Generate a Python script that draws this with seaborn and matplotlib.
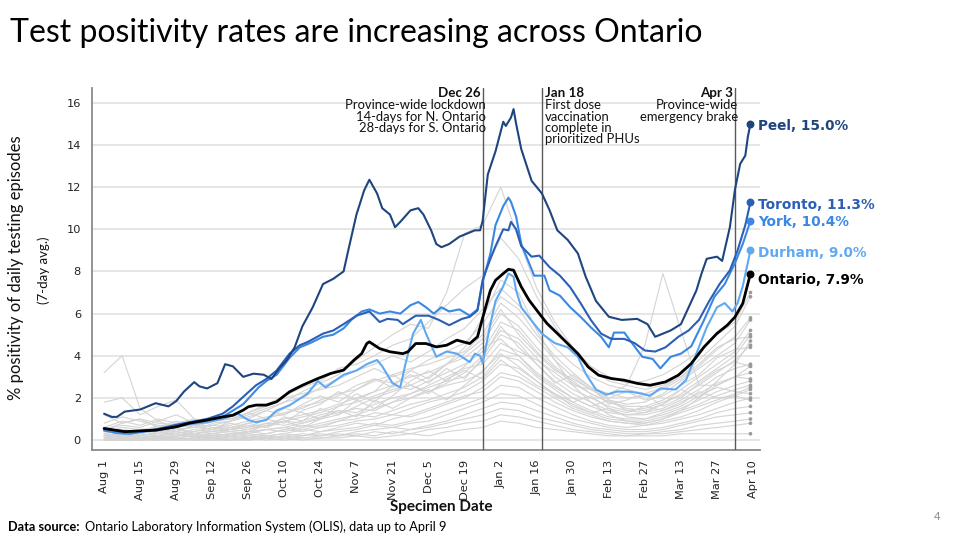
import numpy as np
import pandas as pd
import matplotlib
matplotlib.use("Agg")
import matplotlib.pyplot as plt
import seaborn as sns

# ---------------- data (days counted from 2020-08-01) ----------------
START = pd.Timestamp("2020-08-01")

peel_days = [0, 3, 5, 8, 14, 20, 25, 28, 31, 35, 37, 40, 44, 47, 50, 54, 58, 62, 65, 68, 71, 74, 77, 81, 85, 89, 93, 95, 98, 101, 103, 106, 108, 111, 113, 115, 119, 122, 124, 127, 129, 131, 134, 138, 141, 144, 146, 147, 149, 152, 155, 156, 158, 159, 160, 162, 166, 170, 173, 176, 180, 184, 187, 191, 196, 201, 207, 211, 214, 220, 224, 227, 230, 232, 234, 238, 240, 243, 245, 247, 249, 250, 251]
peel_vals = [1.25, 1.1, 1.1, 1.35, 1.45, 1.75, 1.6, 1.85, 2.3, 2.75, 2.55, 2.45, 2.7, 3.6, 3.5, 3.0, 3.15, 3.1, 2.9, 3.4, 3.8, 4.4, 5.4, 6.3, 7.4, 7.65, 8.0, 9.1, 10.7, 11.85, 12.35, 11.7, 11.0, 10.7, 10.1, 10.35, 10.9, 11.0, 10.7, 9.95, 9.3, 9.15, 9.3, 9.65, 9.8, 9.95, 9.95, 10.4, 12.6, 13.7, 15.1, 14.9, 15.3, 15.7, 15.0, 13.8, 12.3, 11.7, 10.9, 9.95, 9.5, 8.85, 7.75, 6.6, 5.85, 5.7, 5.75, 5.5, 4.9, 5.2, 5.5, 6.3, 7.1, 7.9, 8.6, 8.7, 8.5, 10.1, 11.9, 13.1, 13.5, 14.4, 15.0]

toronto_days = [0, 5, 10, 15, 20, 27, 33, 40, 46, 50, 54, 59, 63, 67, 72, 76, 79, 85, 89, 93, 98, 103, 107, 110, 114, 116, 121, 126, 130, 134, 139, 142, 145, 147, 150, 152, 155, 157, 158, 160, 162, 166, 169, 173, 177, 181, 185, 189, 193, 197, 202, 206, 210, 214, 218, 223, 227, 231, 235, 239, 243, 246, 249, 251]
toronto_vals = [0.55, 0.45, 0.4, 0.45, 0.5, 0.7, 0.85, 1.0, 1.25, 1.6, 2.05, 2.6, 2.9, 3.3, 4.1, 4.5, 4.65, 5.05, 5.2, 5.5, 5.9, 6.1, 5.6, 5.75, 5.7, 5.5, 5.9, 5.9, 5.7, 5.45, 5.75, 5.85, 6.15, 7.6, 8.6, 9.2, 10.0, 9.95, 10.35, 10.0, 9.2, 8.7, 8.75, 8.2, 7.8, 7.25, 6.5, 5.7, 5.05, 4.8, 4.8, 4.6, 4.25, 4.2, 4.4, 4.9, 5.2, 5.7, 6.6, 7.4, 8.05, 9.0, 10.2, 11.3]

york_days = [0, 5, 10, 15, 20, 27, 33, 40, 46, 50, 54, 57, 60, 63, 67, 72, 76, 80, 85, 89, 93, 96, 100, 103, 107, 111, 115, 119, 122, 125, 128, 131, 134, 138, 142, 145, 147, 150, 152, 155, 157, 158, 160, 162, 165, 167, 171, 173, 177, 181, 185, 189, 193, 196, 198, 202, 205, 209, 213, 216, 220, 224, 228, 233, 237, 241, 245, 248, 251]
york_vals = [0.45, 0.35, 0.3, 0.4, 0.5, 0.65, 0.8, 0.95, 1.1, 1.4, 1.7, 2.1, 2.5, 2.8, 3.1, 3.9, 4.4, 4.6, 4.9, 5.0, 5.3, 5.7, 6.1, 6.2, 6.0, 6.1, 6.0, 6.4, 6.55, 6.3, 6.0, 6.3, 6.1, 6.2, 5.9, 6.2, 7.5, 8.85, 10.2, 11.1, 11.5, 11.3, 10.6, 9.3, 8.4, 7.8, 7.8, 7.1, 6.85, 6.3, 5.85, 5.35, 4.9, 4.4, 5.1, 5.1, 4.6, 3.95, 3.85, 3.4, 3.95, 4.1, 4.45, 5.7, 6.8, 7.4, 8.4, 9.3, 10.4]

durham_days = [0, 4, 8, 14, 20, 27, 33, 40, 46, 52, 56, 59, 63, 67, 72, 79, 83, 86, 93, 98, 102, 106, 108, 112, 115, 117, 120, 123, 125, 129, 133, 137, 142, 144, 146, 147, 150, 152, 155, 157, 159, 160, 162, 167, 170, 175, 180, 184, 187, 191, 195, 199, 204, 209, 212, 216, 222, 226, 230, 234, 238, 241, 244, 246, 248, 251]
durham_vals = [0.5, 0.35, 0.3, 0.4, 0.45, 0.6, 0.75, 0.85, 1.0, 1.25, 0.95, 0.85, 0.95, 1.4, 1.65, 2.2, 2.8, 2.5, 3.1, 3.3, 3.6, 3.8, 3.5, 2.7, 2.5, 3.6, 5.05, 5.7, 5.05, 3.95, 4.2, 4.1, 3.7, 4.1, 4.0, 3.65, 5.5, 6.6, 7.3, 7.9, 7.75, 7.1, 6.3, 5.5, 5.05, 4.6, 4.4, 3.95, 3.15, 2.4, 2.15, 2.3, 2.3, 2.2, 2.1, 2.45, 2.4, 2.85, 4.1, 5.35, 6.3, 6.5, 6.1, 6.5, 7.3, 9.0]

ontario_days = [0, 8, 20, 28, 33, 40, 46, 50, 54, 56, 59, 63, 67, 72, 77, 83, 88, 93, 97, 100, 102, 103, 107, 111, 116, 118, 121, 125, 129, 133, 137, 142, 145, 147, 150, 152, 155, 157, 159, 162, 165, 169, 172, 176, 180, 184, 188, 192, 197, 202, 207, 212, 218, 223, 228, 233, 238, 242, 245, 248, 251]
ontario_vals = [0.55, 0.4, 0.47, 0.63, 0.8, 0.95, 1.1, 1.18, 1.42, 1.58, 1.66, 1.66, 1.82, 2.29, 2.6, 2.92, 3.16, 3.32, 3.79, 4.1, 4.58, 4.66, 4.34, 4.19, 4.1, 4.19, 4.58, 4.58, 4.42, 4.5, 4.74, 4.58, 4.9, 5.8, 7.1, 7.58, 7.9, 8.1, 8.06, 7.27, 6.64, 6.0, 5.53, 5.06, 4.58, 4.1, 3.47, 3.08, 2.92, 2.84, 2.69, 2.6, 2.76, 3.08, 3.63, 4.42, 5.06, 5.45, 5.84, 6.48, 7.9]

# other public health units, weekly readings (Aug 1 ... Apr 3, Apr 9)
gray_days = [0, 7, 14, 21, 28, 35, 42, 49, 56, 63, 70, 77, 84, 91, 98, 105, 112, 119, 126, 133, 140, 147, 154, 161, 168, 175, 182, 189, 196, 203, 210, 217, 224, 231, 238, 245, 251]
g01 = [0.4, 0.6, 0.5, 0.4, 0.5, 0.6, 0.7, 0.9, 1.1, 1.4, 1.8, 2.3, 2.7, 3.1, 3.8, 4.4, 5.0, 5.5, 5.3, 7.0, 9.8, 10.2, 12.0, 9.5, 7.2, 5.6, 4.4, 3.5, 3.0, 2.7, 2.8, 3.1, 3.6, 4.2, 5.0, 5.6, 7.0]
g02 = [3.2, 4.0, 1.5, 0.9, 0.6, 0.3, 0.2, 0.3, 0.4, 0.5, 0.6, 0.8, 1.0, 1.2, 1.6, 2.0, 2.3, 2.6, 3.0, 3.6, 4.4, 5.8, 7.6, 7.0, 5.2, 3.8, 2.6, 1.8, 1.2, 0.9, 0.8, 1.0, 1.4, 2.0, 2.8, 3.6, 4.7]
g03 = [1.8, 2.0, 1.2, 1.6, 1.9, 1.0, 0.8, 0.9, 1.2, 1.5, 1.8, 2.0, 2.5, 2.9, 3.3, 3.6, 4.0, 3.7, 4.2, 4.8, 5.3, 6.2, 7.2, 6.4, 5.4, 4.4, 3.6, 3.0, 2.6, 2.4, 2.2, 2.5, 3.0, 3.8, 4.6, 5.4, 6.8]
g04 = [0.8, 1.1, 0.9, 0.7, 0.6, 0.7, 0.9, 1.0, 1.3, 1.6, 2.0, 2.2, 2.4, 2.6, 3.0, 3.4, 3.0, 3.3, 3.8, 4.2, 4.6, 5.5, 6.8, 6.2, 5.0, 4.0, 3.2, 2.5, 2.2, 2.0, 2.1, 2.4, 2.9, 3.5, 4.3, 4.9, 5.8]
g05 = [0.6, 0.4, 0.5, 0.6, 0.8, 1.0, 0.7, 0.6, 0.8, 1.0, 1.3, 1.5, 1.9, 2.2, 2.4, 2.8, 3.1, 3.4, 3.6, 3.9, 4.2, 5.0, 6.5, 5.8, 4.8, 3.8, 3.0, 2.4, 1.9, 1.7, 1.8, 2.2, 2.8, 3.4, 4.0, 4.6, 5.7]
g06 = [0.3, 0.2, 0.4, 0.3, 0.5, 0.6, 0.5, 0.7, 0.9, 1.1, 1.2, 1.6, 1.8, 2.1, 2.6, 2.9, 2.7, 3.0, 3.2, 3.6, 3.9, 4.6, 6.0, 5.4, 4.4, 3.5, 2.8, 2.2, 1.8, 1.6, 1.6, 1.9, 2.4, 3.0, 3.6, 4.2, 5.2]
g07 = [0.5, 0.7, 0.6, 0.9, 1.2, 0.8, 0.6, 0.5, 0.6, 0.8, 1.0, 1.2, 1.4, 1.7, 2.0, 2.3, 2.6, 2.4, 2.8, 3.2, 3.6, 4.2, 5.6, 5.2, 4.2, 3.4, 2.7, 2.2, 1.8, 1.5, 1.4, 1.7, 2.2, 2.8, 3.4, 4.0, 5.0]
g08 = [0.2, 0.3, 0.2, 0.4, 0.3, 0.5, 0.4, 0.5, 0.7, 0.6, 0.9, 1.1, 1.3, 1.6, 1.8, 2.1, 2.4, 2.6, 2.3, 2.7, 3.2, 4.0, 5.2, 4.8, 3.9, 3.0, 2.4, 2.0, 1.6, 1.4, 1.5, 1.8, 2.1, 2.6, 3.2, 3.8, 4.5]
g09 = [0.4, 0.3, 0.5, 0.4, 0.2, 0.3, 0.5, 0.4, 0.5, 0.8, 0.7, 0.9, 1.2, 1.4, 1.3, 1.7, 2.0, 2.2, 2.5, 2.8, 3.0, 3.8, 5.0, 4.6, 3.6, 2.8, 2.2, 1.8, 1.4, 1.2, 1.3, 1.5, 1.9, 2.4, 3.0, 3.4, 3.6]
g10 = [0.1, 0.2, 0.1, 0.1, 0.2, 0.3, 0.2, 0.3, 0.4, 0.3, 0.5, 0.7, 0.6, 0.9, 1.2, 1.5, 1.8, 2.2, 2.6, 3.0, 3.4, 3.6, 4.6, 4.2, 3.8, 3.2, 2.6, 2.4, 2.2, 2.6, 4.5, 7.9, 5.2, 2.6, 2.6, 3.0, 3.5]
g11 = [0.3, 0.2, 0.3, 0.5, 0.4, 0.3, 0.4, 0.6, 0.5, 0.7, 0.9, 0.8, 1.1, 1.3, 1.5, 1.4, 1.8, 2.0, 2.3, 2.6, 2.8, 3.2, 4.3, 4.0, 3.2, 2.6, 2.0, 1.6, 1.3, 1.2, 1.2, 1.4, 1.8, 2.2, 2.7, 3.0, 3.2]
g12 = [0.2, 0.1, 0.2, 0.3, 0.2, 0.4, 0.3, 0.2, 0.4, 0.5, 0.4, 0.6, 0.8, 1.0, 1.2, 1.1, 1.4, 1.7, 1.9, 2.2, 2.5, 3.0, 4.0, 3.8, 3.0, 2.4, 1.8, 1.4, 1.1, 1.0, 1.0, 1.2, 1.5, 1.9, 2.3, 2.6, 2.8]
g13 = [0.1, 0.2, 0.3, 0.2, 0.1, 0.2, 0.3, 0.4, 0.3, 0.5, 0.6, 0.5, 0.7, 0.9, 1.0, 1.3, 1.2, 1.5, 1.8, 2.0, 2.3, 2.8, 3.6, 3.4, 2.8, 2.2, 1.6, 1.3, 1.0, 0.9, 0.9, 1.1, 1.4, 1.7, 2.1, 2.4, 2.6]
g14 = [0.2, 0.3, 0.1, 0.2, 0.3, 0.1, 0.2, 0.3, 0.2, 0.3, 0.5, 0.4, 0.6, 0.7, 0.9, 1.0, 1.2, 1.1, 1.4, 1.7, 2.0, 2.5, 3.2, 3.0, 2.5, 2.0, 1.5, 1.2, 0.9, 0.8, 0.8, 1.0, 1.3, 1.6, 1.9, 2.2, 2.5]
g15 = [0.0, 0.1, 0.2, 0.1, 0.2, 0.2, 0.1, 0.2, 0.3, 0.2, 0.3, 0.5, 0.4, 0.6, 0.8, 0.7, 1.0, 1.2, 1.5, 1.8, 2.1, 2.3, 3.0, 2.8, 2.3, 1.8, 1.4, 1.1, 0.9, 0.8, 0.7, 0.9, 1.1, 1.4, 1.8, 2.1, 2.4]
g16 = [0.1, 0.0, 0.1, 0.2, 0.1, 0.0, 0.1, 0.2, 0.1, 0.2, 0.3, 0.2, 0.4, 0.5, 0.6, 0.8, 0.7, 0.9, 1.1, 1.4, 1.7, 2.0, 2.6, 2.5, 2.0, 1.6, 1.2, 0.9, 0.7, 0.6, 0.7, 0.8, 1.0, 1.2, 1.5, 1.8, 2.0]
g17 = [0.0, 0.1, 0.0, 0.1, 0.0, 0.1, 0.2, 0.1, 0.2, 0.1, 0.2, 0.3, 0.2, 0.4, 0.5, 0.7, 0.6, 0.8, 0.9, 1.2, 1.5, 1.8, 2.2, 2.1, 1.7, 1.3, 1.0, 0.8, 0.6, 0.5, 0.5, 0.6, 0.8, 1.0, 1.3, 1.5, 1.6]
g18 = [0.1, 0.0, 0.1, 0.0, 0.1, 0.2, 0.1, 0.0, 0.1, 0.2, 0.1, 0.2, 0.3, 0.2, 0.4, 0.5, 0.6, 0.5, 0.7, 0.9, 1.2, 1.5, 1.8, 1.7, 1.4, 1.1, 0.8, 0.6, 0.5, 0.4, 0.4, 0.5, 0.7, 0.9, 1.1, 1.2, 1.3]
g19 = [0.0, 0.0, 0.1, 0.0, 0.0, 0.1, 0.0, 0.1, 0.0, 0.1, 0.2, 0.1, 0.2, 0.3, 0.2, 0.4, 0.3, 0.5, 0.6, 0.8, 1.0, 1.2, 1.5, 1.4, 1.1, 0.9, 0.7, 0.5, 0.4, 0.3, 0.3, 0.4, 0.5, 0.7, 0.8, 0.9, 1.0]
g20 = [0.0, 0.0, 0.0, 0.1, 0.0, 0.0, 0.1, 0.0, 0.0, 0.1, 0.0, 0.1, 0.1, 0.2, 0.3, 0.2, 0.4, 0.3, 0.5, 0.6, 0.8, 0.9, 1.2, 1.1, 0.9, 0.7, 0.5, 0.4, 0.3, 0.2, 0.3, 0.3, 0.4, 0.5, 0.6, 0.7, 0.8]
g21 = [0.0, 0.0, 0.0, 0.0, 0.1, 0.0, 0.0, 0.0, 0.1, 0.0, 0.1, 0.0, 0.1, 0.1, 0.2, 0.1, 0.2, 0.3, 0.2, 0.4, 0.5, 0.6, 0.9, 0.8, 0.6, 0.5, 0.4, 0.3, 0.2, 0.2, 0.2, 0.2, 0.3, 0.3, 0.3, 0.3, 0.3]
g22 = [0.5, 0.8, 1.0, 0.8, 0.7, 0.9, 1.1, 1.0, 1.3, 1.7, 2.1, 2.5, 2.8, 3.4, 3.6, 4.0, 4.5, 4.8, 5.6, 6.4, 7.2, 7.8, 9.6, 8.6, 6.8, 5.4, 4.2, 3.4, 2.8, 2.6, 2.4, 2.6, 3.0, 3.6, 4.4, 4.8, 4.9]
g23 = [0.6, 0.9, 0.7, 1.0, 0.8, 0.6, 0.9, 1.2, 1.0, 1.4, 1.2, 1.7, 2.1, 1.8, 2.4, 2.9, 2.5, 3.3, 2.9, 3.6, 4.1, 4.8, 6.2, 5.0, 4.1, 3.3, 2.9, 2.4, 2.0, 2.3, 1.9, 2.1, 2.6, 3.1, 3.9, 4.3, 4.4]
g24 = [1.2, 0.8, 1.0, 0.6, 0.9, 0.7, 0.5, 0.8, 0.6, 1.0, 1.5, 1.3, 1.0, 1.6, 2.2, 1.8, 2.6, 3.1, 2.7, 3.4, 2.9, 3.9, 5.4, 4.4, 3.6, 2.7, 3.1, 2.5, 1.7, 1.9, 2.2, 1.6, 2.0, 2.7, 3.3, 3.7, 3.5]
g25 = [0.2, 0.4, 0.3, 0.6, 0.4, 0.7, 0.5, 0.9, 1.3, 1.0, 0.8, 1.4, 1.7, 2.3, 1.9, 1.5, 2.1, 2.8, 3.3, 2.8, 3.5, 4.4, 4.8, 4.0, 3.1, 2.5, 2.0, 1.6, 1.9, 1.4, 1.3, 1.7, 2.4, 2.0, 2.6, 3.0, 2.9]
g26 = [0.0, 0.1, 0.3, 0.2, 0.4, 0.2, 0.3, 0.5, 0.4, 0.7, 0.9, 0.6, 1.0, 1.4, 1.1, 1.9, 1.5, 2.0, 2.4, 1.9, 2.6, 3.3, 4.1, 3.5, 2.8, 2.1, 1.7, 1.3, 1.5, 1.1, 1.0, 1.3, 1.6, 2.1, 2.5, 2.3, 2.2]
g27 = [0.3, 0.5, 0.4, 0.7, 0.5, 0.4, 0.6, 0.5, 0.8, 0.6, 1.1, 0.9, 1.5, 1.2, 1.9, 2.3, 3.1, 2.6, 2.2, 2.9, 3.3, 2.9, 3.8, 3.2, 2.6, 2.2, 1.8, 2.1, 1.5, 1.3, 1.6, 1.4, 1.7, 2.3, 2.0, 2.1, 1.9]
GRAY = [g01, g02, g03, g04, g05, g06, g07, g08, g09, g10, g11, g12, g13, g14, g15, g16,
        g17, g18, g19, g20, g21, g22, g23, g24, g25, g26, g27]

event_days = [147, 170, 245]
event_titles = ["Dec 26", "Jan 18", "Apr 3"]
event_texts = ["Province-wide lockdown\n14-days for N. Ontario\n28-days for S. Ontario",
               "First dose\nvaccination\ncomplete in\nprioritized PHUs",
               "Province-wide\nemergency brake"]

tick_days = list(range(0, 253, 14))
y_ticks = [0, 2, 4, 6, 8, 10, 12, 14, 16]

# ---------------- styling ----------------
sns.set_theme(style="white")
plt.rcParams["font.family"] = ["DejaVu Sans"]
LATO = ["Lato", "DejaVu Sans"]

def to_dates(days):
    return START + pd.to_timedelta(days, unit="D")

fig = plt.figure(figsize=(9.6, 5.42), dpi=100)
ax = fig.add_axes([92 / 960, 1 - 450 / 542, (760 - 92) / 960, (450 - 87.6) / 542])

# other PHUs
gray_df = pd.DataFrame(
    [(f"phu{i}", d, v) for i, vals in enumerate(GRAY) for d, v in zip(gray_days, vals)],
    columns=["phu", "day", "value"])
gray_df["date"] = to_dates(gray_df["day"])
sns.lineplot(data=gray_df, x="date", y="value", units="phu", estimator=None,
             color="#d4d4d4", linewidth=0.8, ax=ax, legend=False, zorder=1)
last_gray = gray_df[gray_df["day"] == gray_days[-1]]
sns.scatterplot(data=last_gray, x="date", y="value", color="#9a9a9a", s=7,
                edgecolor="none", ax=ax, legend=False, zorder=2)

# event lines
for d in event_days:
    ax.axvline(to_dates([d])[0], color="#5a5a5a", linewidth=1.0, zorder=3)

series = [
    ("Durham", durham_days, durham_vals, "#5fa9f2", 1.5, -2),
    ("York", york_days, york_vals, "#3a88e4", 1.5, -1),
    ("Toronto", toronto_days, toronto_vals, "#2a5fb5", 1.5, -2.5),
    ("Peel", peel_days, peel_vals, "#1e4580", 1.5, -1.5),
    ("Ontario", ontario_days, ontario_vals, "#000000", 2.0, -4.5),
]
for name, days, vals, col, lw, dy in series:
    dates = to_dates(days)
    sns.lineplot(x=dates, y=vals, color=col, linewidth=lw, ax=ax, zorder=5)
    ax.scatter([dates[-1]], [vals[-1]], color=col, s=22, zorder=6)
    ax.annotate(f"{name}, {vals[-1]:.1f}%", xy=(dates[-1], vals[-1]), xytext=(5.5, dy),
                textcoords="offset points", ha="left", va="center", fontsize=9.8,
                fontweight="bold", color=col, annotation_clip=False)

# event annotations
for d, title, txt in zip(event_days, event_titles, event_texts):
    x = to_dates([d])[0]
    if title == "Jan 18":
        ax.annotate(title, xy=(x, 16.72), xytext=(2, 0.5), textcoords="offset points",
                    ha="left", va="top", fontsize=9.6, fontweight="bold", family=LATO, color="#111")
        ax.annotate(txt, xy=(x, 16.72), xytext=(2, -8.5), textcoords="offset points",
                    ha="left", va="top", fontsize=9.4, family=LATO, color="#111", linespacing=0.92)
    else:
        ax.annotate(title, xy=(x, 16.72), xytext=(-1.5, 0.5), textcoords="offset points",
                    ha="right", va="top", fontsize=9.6, fontweight="bold", family=LATO, color="#111")
        ax.annotate(txt, xy=(x, 16.72), xytext=(2.5, -8.5), textcoords="offset points",
                    ha="right", va="top", fontsize=9.4, family=LATO, color="#111",
                    linespacing=0.92, multialignment="right")

# axes
ax.set_xlim(to_dates([-4.7])[0], to_dates([254.7])[0])
ax.set_ylim(-0.47, 16.72)
ax.set_yticks(y_ticks)
ax.set_yticklabels([str(v) for v in y_ticks])
tick_dates = to_dates(tick_days)
ax.set_xticks(tick_dates)
ax.set_xticklabels([f"{d:%b} {d.day}" for d in tick_dates], rotation=90)
for y in y_ticks:
    ax.axhline(y, color="#e1e1e1", linewidth=1.2, zorder=0)
ax.set_xlabel("")
ax.set_ylabel("")
for s in ["top", "right"]:
    ax.spines[s].set_visible(False)
for s in ["left", "bottom"]:
    ax.spines[s].set_color("#8a8a8a")
    ax.spines[s].set_linewidth(1.3)
ax.tick_params(axis="both", which="both", direction="out", length=5, width=1,
               color="#8a8a8a", labelsize=8.2, labelcolor="#222")
ax.tick_params(axis="x", pad=2)
ax.tick_params(axis="y", pad=3)
ax.set_facecolor("white")

# texts
fig.text(10 / 960, 1 - 42 / 542, "Test positivity rates are increasing across Ontario",
         fontsize=23, family=LATO, color="#000", ha="left", va="baseline")
fig.text(16 / 960, 1 - 268 / 542, "% positivity of daily testing episodes", rotation=90,
         fontsize=12, family=LATO, ha="center", va="center", color="#111")
fig.text(44 / 960, 1 - 270 / 542, "(7-day avg.)", rotation=90,
         fontsize=9.5, family=LATO, ha="center", va="center", color="#111")
fig.text(441 / 960, 1 - 507 / 542, "Specimen Date", fontsize=11, fontweight="bold",
         family=LATO, ha="center", va="center", color="#111")
src_bold = fig.text(8 / 960, 1 - 531 / 542, "Data source: ", fontsize=9.2, fontweight="bold",
                    family=LATO, ha="left", va="baseline", color="#000")
fig.canvas.draw()
bb = src_bold.get_window_extent(renderer=fig.canvas.get_renderer())
fig.text(bb.x1 / fig.bbox.width + 2 / 960, 1 - 531 / 542,
         "Ontario Laboratory Information System (OLIS), data up to April 9",
         fontsize=9.2, family=LATO, ha="left", va="baseline", color="#000")
fig.text(937 / 960, 1 - 517 / 542, "4", fontsize=8, family=LATO, ha="center", va="center",
         color="#8a8a8a")

fig.savefig("out.png", dpi=100, facecolor="white")
